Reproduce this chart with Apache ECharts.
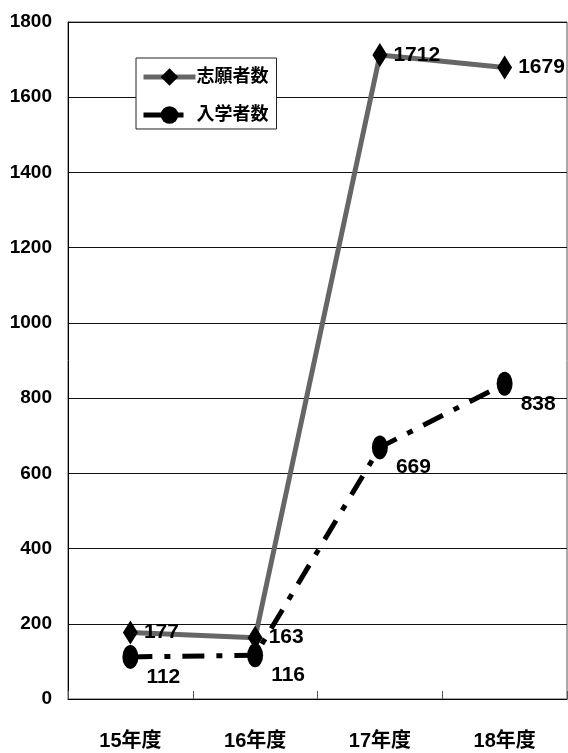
<!DOCTYPE html>
<html><head><meta charset="utf-8">
<script src="https://cdn.jsdelivr.net/npm/echarts@6/dist/echarts.min.js"></script>
<style>html,body{margin:0;padding:0;background:#fff}#c{width:568px;height:753px}</style>
</head><body><div id="c"></div>
<script>
const categories = ['15年度', '16年度', '17年度', '18年度'];
const applicants = [177, 163, 1712, 1679];
const enrolled = [112, 116, 669, 838];
const seriesNames = ['志願者数', '入学者数'];
const yTicks = { min: 0, max: 1800, interval: 200 };

const FONT = "'Liberation Sans Narrow', 'Liberation Sans', Arial, 'Noto Sans CJK JP', sans-serif";
const chart = echarts.init(document.getElementById('c'), null, { renderer: 'canvas' });
chart.setOption({
  animation: false,
  backgroundColor: '#fff',
  textStyle: { fontFamily: FONT },
  grid: { left: 68, right: 1, top: 22, bottom: 54, show: true, borderColor: '#555', borderWidth: 1,
          containLabel: false, outerBoundsMode: 'none' },
  legend: {
    orient: 'vertical', left: 136, top: 58,
    backgroundColor: '#fff', borderColor: '#222', borderWidth: 1,
    padding: [10, 8, 5, 5], itemGap: 20, itemWidth: 52, itemHeight: 22,
    lineStyle: { width: 5 },
    textStyle: { fontFamily: FONT, fontWeight: 'bold', fontSize: 18, color: '#000', padding: [0, 0, 0, -4] },
    data: seriesNames
  },
  xAxis: {
    type: 'category', data: categories, boundaryGap: true,
    axisLine: { lineStyle: { color: '#000', width: 1 } },
    axisTick: { show: true, inside: true, length: 8, lineStyle: { color: '#555' } },
    axisLabel: { margin: 32, color: '#000', fontWeight: 'bold', fontSize: 20, fontFamily: FONT },
    splitLine: { show: false }
  },
  yAxis: {
    type: 'value', min: yTicks.min, max: yTicks.max, interval: yTicks.interval,
    axisLine: { show: true, lineStyle: { color: '#000', width: 1 } },
    axisTick: { show: false },
    axisLabel: { margin: 16, color: '#000', fontWeight: 'bold', fontSize: 19, fontFamily: FONT,
                 formatter: v => String(v) },
    splitLine: { show: true, lineStyle: { color: '#111', width: 1 } }
  },
  series: [
    {
      name: seriesNames[0], type: 'line', data: applicants,
      symbol: 'diamond', symbolSize: [15, 24],
      itemStyle: { color: '#000' },
      lineStyle: { color: '#666', width: 5 },
      label: { show: true, position: 'right', distance: 6, color: '#000', fontWeight: 'bold', fontSize: 21, fontFamily: FONT },
      z: 3
    },
    {
      name: seriesNames[1], type: 'line', data: enrolled,
      symbol: 'circle', symbolSize: [16, 24],
      itemStyle: { color: '#000' },
      lineStyle: { color: '#000', width: 5, type: [22, 12, 6, 12], cap: 'butt' },
      label: { show: true, position: 'right', distance: 8, offset: [0, 20], color: '#000', fontWeight: 'bold', fontSize: 21, fontFamily: FONT },
      z: 2
    }
  ]
});
</script></body></html>
